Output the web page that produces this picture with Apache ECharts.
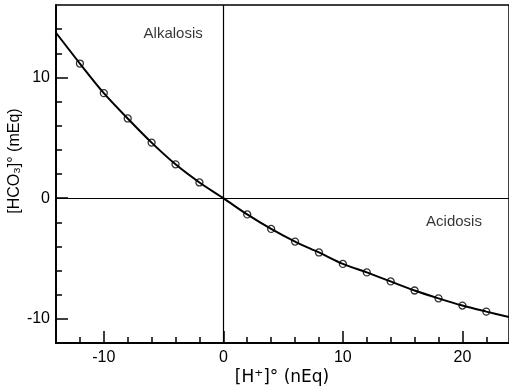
<!DOCTYPE html>
<html><head><meta charset="utf-8">
<script src="https://cdn.jsdelivr.net/npm/echarts@6/dist/echarts.min.js"></script>
<style>html,body{margin:0;padding:0;background:#fff}#c{width:509px;height:389px}</style>
</head><body><div id="c"></div>
<script>
// Data
var pointX = [-12, -10, -8, -6, -4, -2, 2, 4, 6, 8, 10, 12, 14, 16, 18, 20, 22];
var pointY = [11.15, 8.7, 6.6, 4.6, 2.8, 1.3, -1.35, -2.55, -3.6, -4.5, -5.45, -6.15, -6.9, -7.65, -8.3, -8.9, -9.4];
var curveX = [-14, -12, -10, -8, -6, -4, -2, 0, 2, 4, 6, 8, 10, 12, 14, 16, 18, 20, 22, 23.9];
var curveY = [13.7, 11.15, 8.7, 6.6, 4.6, 2.8, 1.3, 0, -1.35, -2.55, -3.6, -4.5, -5.45, -6.15, -6.9, -7.65, -8.3, -8.9, -9.4, -9.85];
var xMinorTicks = [-12, -8, -6, -4, -2, 2, 4, 6, 8, 12, 14, 16, 18, 22];
var xMajorTicks = [-10, 0, 10, 20];
var yMinorTicks = [-8, -6, -4, -2, 2, 4, 6, 8, 12, 14];
var yMajorTicks = [-10, 0, 10];
var annotations = [{name: 'Alkalosis', x: -4.2, y: 13.6}, {name: 'Acidosis', x: 19.3, y: -2.0}];
var xName = '[H\u207A]\u00B0 (nEq)';
var yName = '[HCO\u2083]\u00B0 (mEq)';

var FONT = '"Liberation Sans", Arial, sans-serif';
var chart = echarts.init(document.getElementById('c'));
function xAxisDef(ticks, len, showLabel) {
  return {
    type: 'value', min: -14, max: 23.9, position: 'bottom', offset: 0,
    axisLine: {show: true, onZero: false, lineStyle: {color: '#000', width: 1.5}},
    splitLine: {show: false},
    axisTick: {show: true, inside: true, length: len, customValues: ticks, lineStyle: {color: '#000', width: 1.5}},
    axisLabel: {show: showLabel, customValues: xMajorTicks, color: '#000', fontSize: 16, fontFamily: FONT, margin: 7}
  };
}
function yAxisDef(ticks, len, showLabel) {
  return {
    type: 'value', min: -12, max: 16, position: 'left', offset: 0,
    axisLine: {show: true, onZero: false, lineStyle: {color: '#000', width: 1.5}},
    splitLine: {show: false},
    axisTick: {show: true, inside: true, length: len, customValues: ticks, lineStyle: {color: '#000', width: 1.5}},
    axisLabel: {show: showLabel, customValues: yMajorTicks, color: '#000', fontSize: 16, fontFamily: FONT, margin: 6}
  };
}
chart.setOption({
  animation: false,
  backgroundColor: '#fff',
  grid: {left: 56, top: 5, bottom: 46, right: -2, show: true, borderColor: '#000', borderWidth: 1.5, backgroundColor: 'transparent'},
  xAxis: [xAxisDef(xMinorTicks, 6, false), xAxisDef(xMajorTicks, 12, true)],
  yAxis: [yAxisDef(yMinorTicks, 6, false), yAxisDef(yMajorTicks, 12, true)],
  graphic: [
    {type: 'text', x: 282, y: 378, style: {text: xName, fill: '#000', font: '17px "DejaVu Sans", sans-serif', textAlign: 'center', textVerticalAlign: 'middle'}},
    {type: 'text', x: 15, y: 161, rotation: Math.PI / 2, style: {text: yName, fill: '#000', font: '16px ' + FONT, textAlign: 'center', textVerticalAlign: 'middle'}}
  ],
  series: [
    {
      type: 'line', xAxisIndex: 0, yAxisIndex: 0, smooth: 0.3, symbol: 'none', clip: true,
      data: curveX.map(function (x, i) { return [x, curveY[i]]; }),
      lineStyle: {color: '#000', width: 2},
      markLine: {
        silent: true, symbol: 'none', label: {show: false},
        lineStyle: {color: '#000', width: 1.2, type: 'solid'},
        data: [{xAxis: 0}, {yAxis: 0}]
      }
    },
    {
      type: 'scatter', xAxisIndex: 0, yAxisIndex: 0, symbol: 'circle', symbolSize: 7,
      data: pointX.map(function (x, i) { return [x, pointY[i]]; }),
      itemStyle: {color: '#fff', borderColor: '#000', borderWidth: 1.3}
    },
    {
      type: 'scatter', xAxisIndex: 0, yAxisIndex: 0, symbolSize: 0,
      data: annotations.map(function (a) { return {name: a.name, value: [a.x, a.y]}; }),
      label: {show: true, position: 'inside', formatter: '{b}', color: '#000', fontSize: 15, fontFamily: FONT}
    }
  ]
});
</script></body></html>
